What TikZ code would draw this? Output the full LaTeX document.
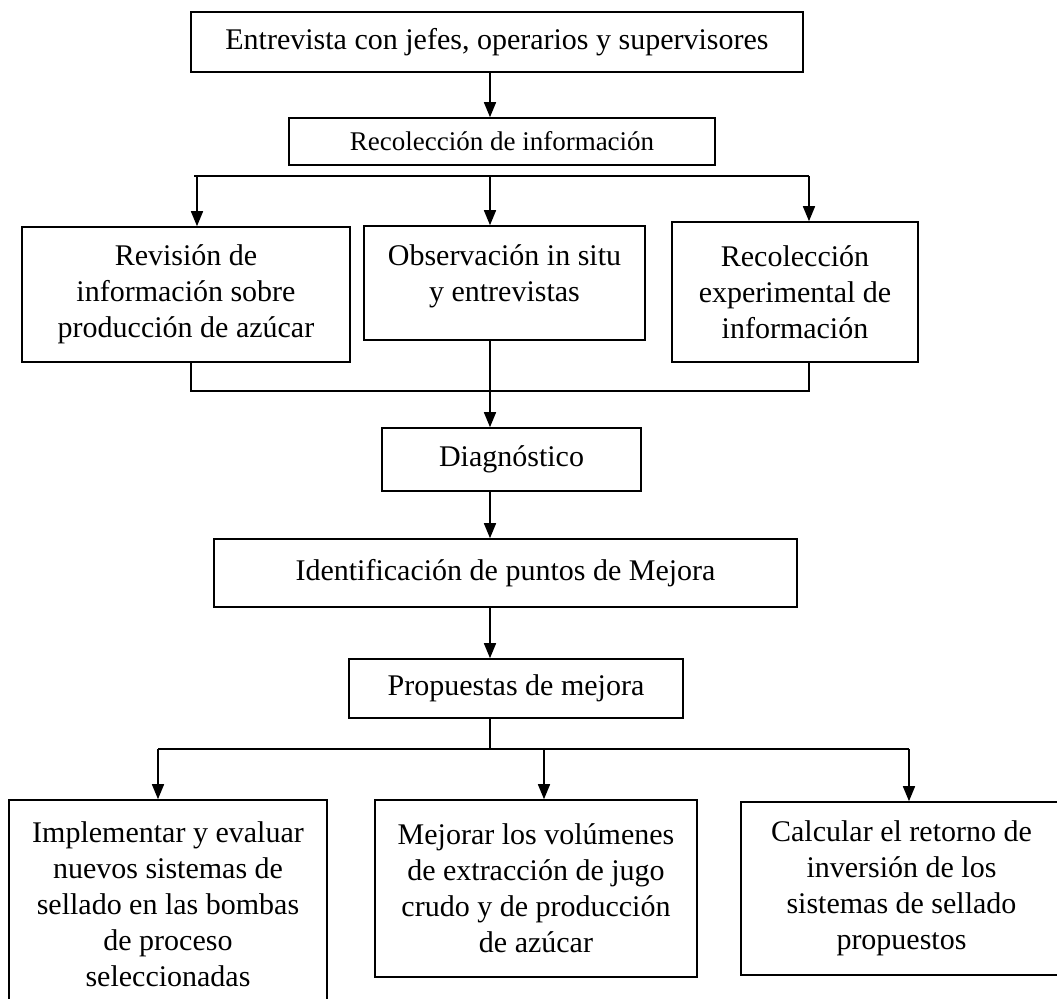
\documentclass[tikz,border=0pt]{standalone}
\usepackage{fontspec}
\setmainfont{Liberation Serif}
\usetikzlibrary{arrows.meta}
\begin{document}
\begin{tikzpicture}[x=0.5pt,y=-0.5pt,
  box/.style={draw, line width=0.8pt, align=center, inner sep=0pt, font=\fontsize{15}{18}\selectfont},
  arr/.style={-{Triangle[length=7.5pt,width=6pt]}, line width=0.8pt},
  ln/.style={line width=0.8pt}]
\clip (0,0) rectangle (1057,999);
\fill[white] (0,0) rectangle (1057,999);
% boxes
\node[box, minimum width=306pt, minimum height=30pt] (b1) at (497,42) {Entrevista con jefes, operarios y supervisores};
\node[box, minimum width=213pt, minimum height=23.5pt, font=\fontsize{13.5}{16}\selectfont] (b2) at (502,141.5) {Recolección de información};
\node[box, minimum width=164pt, minimum height=67.5pt] (b3a) at (186,294.5) {Revisión de\\información sobre\\producción de azúcar};
\node[box, minimum width=140.5pt, minimum height=57pt, text depth=10pt] (b3b) at (504.5,283) {Observación in situ\\y entrevistas};
\node[box, minimum width=123pt, minimum height=70pt] (b3c) at (795,292) {Recolección\\experimental de\\información};
\node[box, minimum width=129.5pt, minimum height=31.5pt] (diag) at (511.5,459.5) {Diagnóstico};
\node[box, minimum width=291.5pt, minimum height=34pt] (ident) at (505.5,573) {Identificación de puntos de Mejora};
\node[box, minimum width=167pt, minimum height=29.5pt] (prop) at (516,688.5) {Propuestas de mejora};
\node[box, minimum width=159pt, minimum height=104pt] (b4a) at (168,904) {Implementar y evaluar\\nuevos sistemas de\\sellado en las bombas\\de proceso\\seleccionadas};
\node[box, minimum width=161pt, minimum height=88.5pt] (b4b) at (536,888.5) {Mejorar los volúmenes\\de extracción de jugo\\crudo y de producción\\de azúcar};
\node[box, minimum width=160.5pt, minimum height=86.5pt] (b4c) at (901.5,888.5) {Calcular el retorno de\\inversión de los\\sistemas de sellado\\propuestos};
% helper coordinates
\coordinate (axis) at (490,0);
\coordinate (busAL) at (194,176);
\coordinate (busAR) at (809,176);
\coordinate (busAM) at (490,176);
\coordinate (ardL) at (197,176);
\coordinate (mergeL) at (191,391);
\coordinate (mergeR) at (809,391);
\coordinate (busBL) at (158,749);
\coordinate (busBR) at (909,749);
\coordinate (busBM) at (490,749);
\coordinate (ardBM) at (544,749);
% connectors
\draw[arr] (b1.south -| axis) -- (b2.north -| axis);
\draw[ln] (busAL) -- (busAR);
\draw[arr] (ardL) -- (ardL |- b3a.north);
\draw[arr] (busAM) -- (busAM |- b3b.north);
\draw[arr] (busAR) -- (busAR |- b3c.north);
\draw[ln] (mergeL |- b3a.south) -- (mergeL) -- (mergeR) -- (mergeR |- b3c.south);
\draw[arr] (b3b.south -| axis) -- (diag.north -| axis);
\draw[arr] (diag.south -| axis) -- (ident.north -| axis);
\draw[arr] (ident.south -| axis) -- (prop.north -| axis);
\draw[ln] (prop.south -| axis) -- (busBM);
\draw[ln] (busBL) -- (busBR);
\draw[arr] (busBL) -- (busBL |- b4a.north);
\draw[arr] (ardBM) -- (ardBM |- b4b.north);
\draw[arr] (busBR) -- (busBR |- b4c.north);
\end{tikzpicture}
\end{document}
